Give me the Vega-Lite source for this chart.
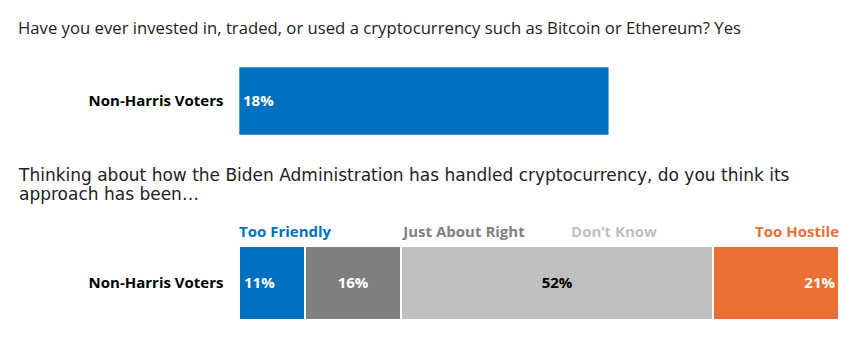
{
  "$schema": "https://vega.github.io/schema/vega-lite/v6.json",
  "background": "white",
  "padding": {"left": 18, "top": 21, "right": 0, "bottom": 0},
  "spacing": 31,
  "config": {
    "view": {"stroke": null},
    "font": "Open Sans",
    "title": {"anchor": "start", "fontWeight": "normal", "color": "#222222", "frame": "bounds"},
    "axisY": {"domain": false, "ticks": false, "grid": false, "labelFontWeight": "bold", "labelFontSize": 15, "labelColor": "#000000", "labelFont": "Open Sans", "labelPadding": 16, "minExtent": 220, "maxExtent": 220}
  },
  "datasets": {
    "crypto": [
      {"group": "Non-Harris Voters", "answer": "Yes", "share": 0.18}
    ],
    "approach": [
      {"group": "Non-Harris Voters", "answer": "Too Friendly", "rank": 1, "share": 0.11},
      {"group": "Non-Harris Voters", "answer": "Just About Right", "rank": 2, "share": 0.16},
      {"group": "Non-Harris Voters", "answer": "Don’t Know", "rank": 3, "share": 0.52},
      {"group": "Non-Harris Voters", "answer": "Too Hostile", "rank": 4, "share": 0.21}
    ]
  },
  "vconcat": [
    {
      "title": {"text": "Have you ever invested in, traded, or used a cryptocurrency such as Bitcoin or Ethereum? Yes", "fontSize": 16.7, "offset": 29, "dx": -1},
      "width": 600,
      "height": 68,
      "data": {"name": "crypto"},
      "transform": [
        {"stack": "share", "groupby": ["group"], "as": ["start", "end"]}
      ],
      "encoding": {
        "y": {"field": "group", "type": "nominal", "title": null, "scale": {"paddingInner": 0, "paddingOuter": 0}}
      },
      "layer": [
        {
          "mark": {"type": "bar", "color": "#0070c0", "stroke": "#ffffff", "strokeWidth": 0.6},
          "encoding": {
            "x": {"field": "start", "type": "quantitative", "scale": {"domain": [0, 0.292]}, "axis": null},
            "x2": {"field": "end"}
          }
        },
        {
          "mark": {"type": "text", "align": "left", "dx": 4, "fontWeight": "bold", "fontSize": 15, "color": "#ffffff"},
          "encoding": {
            "x": {"field": "start", "type": "quantitative", "scale": {"domain": [0, 0.292]}, "axis": null},
            "text": {"field": "share", "type": "quantitative", "format": ".0%"}
          }
        }
      ]
    },
    {
      "title": {"text": ["Thinking about how the Biden Administration has handled cryptocurrency, do you think its", "approach has been…"], "font": "DejaVu Sans", "fontSize": 17, "lineHeight": 19, "offset": 21},
      "width": 600,
      "height": 74,
      "data": {"name": "approach"},
      "transform": [
        {"stack": "share", "groupby": ["group"], "sort": [{"field": "rank", "order": "ascending"}], "as": ["start", "end"]},
        {"calculate": "(datum.start + datum.end) / 2", "as": "mid"}
      ],
      "encoding": {
        "y": {"field": "group", "type": "nominal", "title": null, "scale": {"paddingInner": 0, "paddingOuter": 0}}
      },
      "layer": [
        {
          "mark": {"type": "bar", "stroke": "#ffffff", "strokeWidth": 2},
          "encoding": {
            "x": {"field": "start", "type": "quantitative", "scale": {"domain": [0, 1]}, "axis": null},
            "x2": {"field": "end"},
            "color": {"field": "answer", "type": "nominal", "scale": {"domain": ["Too Friendly", "Just About Right", "Don’t Know", "Too Hostile"], "range": ["#0070c0", "#7f7f7f", "#bfbfbf", "#ea7035"]}, "legend": null}
          }
        },
        {
          "transform": [{"filter": "datum.rank === 1"}],
          "mark": {"type": "text", "align": "left", "dx": 5, "fontWeight": "bold", "fontSize": 15, "color": "#ffffff"},
          "encoding": {
            "x": {"field": "start", "type": "quantitative", "scale": {"domain": [0, 1]}, "axis": null},
            "text": {"field": "share", "type": "quantitative", "format": ".0%"}
          }
        },
        {
          "transform": [{"filter": "datum.rank === 2 || datum.rank === 3"}],
          "mark": {"type": "text", "align": "center", "fontWeight": "bold", "fontSize": 15},
          "encoding": {
            "x": {"field": "mid", "type": "quantitative", "scale": {"domain": [0, 1]}, "axis": null},
            "text": {"field": "share", "type": "quantitative", "format": ".0%"},
            "color": {"condition": {"test": "datum.rank === 3", "value": "#000000"}, "value": "#ffffff"}
          }
        },
        {
          "transform": [{"filter": "datum.rank === 4"}],
          "mark": {"type": "text", "align": "right", "dx": -4, "fontWeight": "bold", "fontSize": 15, "color": "#ffffff"},
          "encoding": {
            "x": {"field": "end", "type": "quantitative", "scale": {"domain": [0, 1]}, "axis": null},
            "text": {"field": "share", "type": "quantitative", "format": ".0%"}
          }
        },
        {
          "transform": [{"filter": "datum.rank === 1"}],
          "mark": {"type": "text", "align": "left", "baseline": "alphabetic", "dy": -9, "fontWeight": "bold", "fontSize": 15},
          "encoding": {
            "x": {"field": "answer", "type": "nominal", "bandPosition": 0, "scale": {"type": "band", "domain": ["Too Friendly", "Just About Right", "Don’t Know", "Too Hostile"], "paddingInner": 0, "paddingOuter": 0}, "axis": null},
            "y": {"field": "group", "type": "nominal", "bandPosition": 0},
            "text": {"field": "answer"},
            "color": {"field": "answer", "type": "nominal", "legend": null}
          }
        },
        {
          "transform": [{"filter": "datum.rank === 2 || datum.rank === 3"}],
          "mark": {"type": "text", "align": "center", "baseline": "alphabetic", "dy": -9, "fontWeight": "bold", "fontSize": 15},
          "encoding": {
            "x": {"field": "answer", "type": "nominal", "bandPosition": 0.5, "scale": {"type": "band", "domain": ["Too Friendly", "Just About Right", "Don’t Know", "Too Hostile"], "paddingInner": 0, "paddingOuter": 0}, "axis": null},
            "y": {"field": "group", "type": "nominal", "bandPosition": 0},
            "text": {"field": "answer"},
            "color": {"field": "answer", "type": "nominal", "legend": null}
          }
        },
        {
          "transform": [{"filter": "datum.rank === 4"}],
          "mark": {"type": "text", "align": "right", "baseline": "alphabetic", "dy": -9, "fontWeight": "bold", "fontSize": 15},
          "encoding": {
            "x": {"field": "answer", "type": "nominal", "bandPosition": 1, "scale": {"type": "band", "domain": ["Too Friendly", "Just About Right", "Don’t Know", "Too Hostile"], "paddingInner": 0, "paddingOuter": 0}, "axis": null},
            "y": {"field": "group", "type": "nominal", "bandPosition": 0},
            "text": {"field": "answer"},
            "color": {"field": "answer", "type": "nominal", "legend": null}
          }
        }
      ],
      "resolve": {"scale": {"x": "independent"}}
    }
  ]
}
